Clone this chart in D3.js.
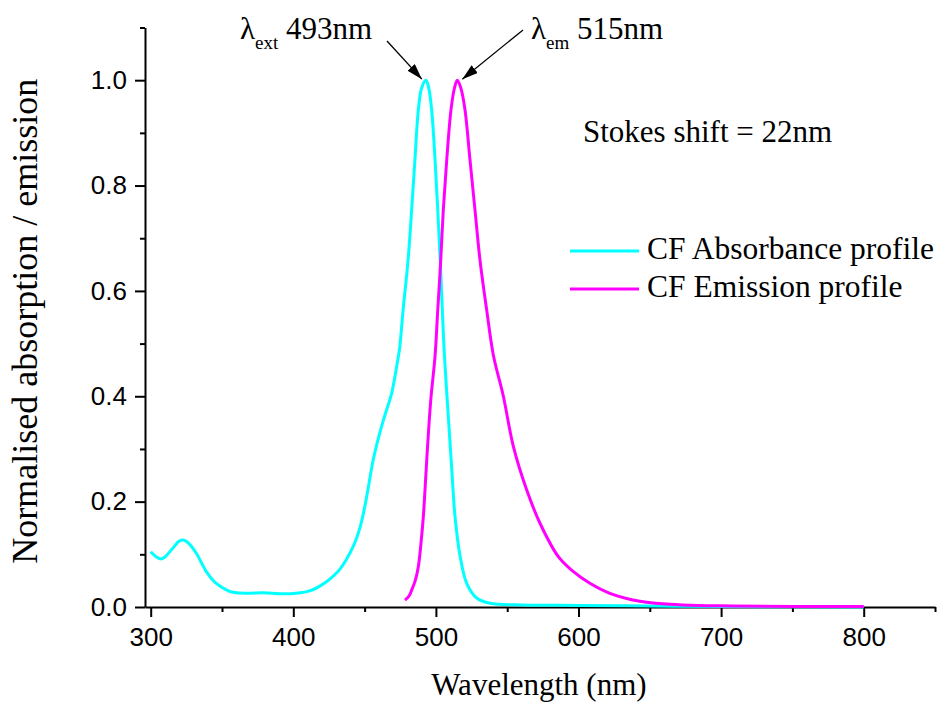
<!DOCTYPE html>
<html>
<head>
<meta charset="utf-8">
<script src="https://cdn.jsdelivr.net/npm/d3@7"></script>
<style>
  html, body { margin: 0; padding: 0; background: #fff; }
  svg { display: block; }
</style>
</head>
<body>
<svg id="chart" width="937" height="702"></svg>
<script>
// ---- Data ----
const absWavelength = [300, 304, 307, 310, 315, 320, 323, 327, 332, 339, 345, 349, 356, 367, 379, 391, 402, 412, 420, 426, 433, 442, 447, 451.5, 456, 460, 464, 469, 472.5, 474.5, 477, 480.5, 483, 485.3, 487.7, 490, 493, 495, 497, 499.4, 501.3, 503, 504.5, 506, 508.7, 511, 513.4, 517, 521.6, 528.6, 538, 561, 600, 650, 700, 800];
const absValues     = [0.105, 0.095, 0.091, 0.095, 0.110, 0.125, 0.127, 0.120, 0.102, 0.067, 0.047, 0.039, 0.029, 0.026, 0.027, 0.025, 0.026, 0.031, 0.042, 0.054, 0.073, 0.115, 0.153, 0.210, 0.279, 0.324, 0.362, 0.406, 0.457, 0.490, 0.564, 0.659, 0.754, 0.849, 0.944, 0.985, 1.000, 0.985, 0.944, 0.849, 0.754, 0.659, 0.564, 0.476, 0.362, 0.267, 0.172, 0.096, 0.045, 0.017, 0.007, 0.004, 0.003, 0.002, 0.001, 0.000];

const emWavelength = [478.3, 481, 483, 485.5, 487.7, 489.5, 491.2, 494, 496.4, 499.4, 501.3, 503.4, 505.2, 507.6, 510.6, 513, 515, 517.5, 520.4, 523.9, 527.4, 530.9, 535.6, 540.3, 547.3, 554.3, 563.7, 573, 586, 596, 608, 622, 643, 673, 708, 750, 800];
const emValues     = [0.013, 0.020, 0.032, 0.050, 0.077, 0.120, 0.172, 0.298, 0.393, 0.476, 0.564, 0.659, 0.754, 0.849, 0.944, 0.985, 1.000, 0.985, 0.944, 0.849, 0.754, 0.659, 0.564, 0.478, 0.400, 0.305, 0.222, 0.159, 0.095, 0.068, 0.045, 0.026, 0.011, 0.004, 0.002, 0.001, 0.001];

const xMajorTicks = [300, 400, 500, 600, 700, 800];
const xMinorTicks = [350, 450, 550, 650, 750, 850];
const yMajorTicks = [0.0, 0.2, 0.4, 0.6, 0.8, 1.0];
const yMinorTicks = [0.1, 0.3, 0.5, 0.7, 0.9, 1.1];

const seriesNames  = ["CF Absorbance profile", "CF Emission profile"];
const seriesColors = ["#00FFFF", "#FF00FF"];
const xTitle = "Wavelength (nm)";
const yTitle = "Normalised absorption / emission";
const stokesText = "Stokes shift = 22nm";
const peakAbs = 493, peakEm = 515;

// ---- Chart ----
const svg = d3.select("#chart");
const SERIF = '"Liberation Serif"';
const SANS = '"Liberation Sans"';

const x = d3.scaleLinear().domain([296, 850]).range([145, 935]);
const y = d3.scaleLinear().domain([0, 1.1]).range([607, 27.5]);

// axes
const gx = svg.append("g").attr("transform", `translate(0,${y(0)})`);
gx.call(d3.axisBottom(x).tickValues(xMajorTicks).tickSize(10).tickSizeOuter(0).tickPadding(11).tickFormat(d3.format("d")));
const gxm = svg.append("g").attr("transform", `translate(0,${y(0)})`);
gxm.call(d3.axisBottom(x).tickValues(xMinorTicks).tickSize(5).tickSizeOuter(0).tickFormat(""));
gxm.select(".domain").remove();

const gy = svg.append("g").attr("transform", `translate(${x.range()[0]},0)`);
gy.call(d3.axisLeft(y).tickValues(yMajorTicks).tickSize(10).tickSizeOuter(0).tickPadding(8).tickFormat(d3.format(".1f")));
const gym = svg.append("g").attr("transform", `translate(${x.range()[0]},0)`);
gym.call(d3.axisLeft(y).tickValues(yMinorTicks).tickSize(5).tickSizeOuter(0).tickFormat(""));
gym.select(".domain").remove();

svg.selectAll(".domain, .tick line").attr("stroke", "#000").attr("stroke-width", 2);
svg.selectAll(".tick text").style("font-family", SANS).attr("fill", "#000");
gx.selectAll(".tick text").style("font-size", "26px");
gy.selectAll(".tick text").style("font-size", "26px");

// lines
const line = d3.line().x(d => x(d[0])).y(d => y(d[1])).curve(d3.curveCatmullRom.alpha(0.5));
const series = [
  d3.zip(absWavelength, absValues),
  d3.zip(emWavelength, emValues)
];
series.forEach((s, i) => {
  svg.append("path").datum(s)
    .attr("d", line)
    .attr("fill", "none")
    .attr("stroke", seriesColors[i])
    .attr("stroke-width", 3)
    .attr("stroke-linejoin", "round");
});

// axis titles
svg.append("text")
  .attr("x", (x(296) + x(850)) / 2 - 1).attr("y", 695)
  .attr("text-anchor", "middle")
  .style("font-family", SERIF).style("font-size", "31px")
  .text(xTitle);

svg.append("text")
  .attr("transform", `translate(37,${(y(0) + y(1.1)) / 2 + 4}) rotate(-90)`)
  .attr("text-anchor", "middle")
  .style("font-family", SERIF).style("font-size", "36px")
  .text(yTitle);

// legend
const legend = svg.append("g");
seriesNames.forEach((name, i) => {
  const ly = 251 + i * 38;
  legend.append("line")
    .attr("x1", 570).attr("x2", 639).attr("y1", ly).attr("y2", ly)
    .attr("stroke", seriesColors[i]).attr("stroke-width", 3);
  legend.append("text")
    .attr("x", 647).attr("y", ly + 7.5)
    .style("font-family", SERIF).style("font-size", "31.5px")
    .text(name);
});

// Stokes shift
svg.append("text")
  .attr("x", 583).attr("y", 142)
  .style("font-family", SERIF).style("font-size", "31px")
  .text(stokesText);

// peak annotations
const defs = svg.append("defs");
defs.append("marker")
  .attr("id", "arrow").attr("viewBox", "0 0 16 10")
  .attr("refX", 16).attr("refY", 5)
  .attr("markerWidth", 16).attr("markerHeight", 10)
  .attr("markerUnits", "userSpaceOnUse")
  .attr("orient", "auto")
  .append("path").attr("d", "M0,0 L16,5 L0,10 Z").attr("fill", "#000");

function annotate(tx, sub, val) {
  const t = svg.append("text")
    .attr("x", tx).attr("y", 39)
    .style("font-family", SERIF).style("font-size", "31px");
  t.append("tspan").text("λ");
  t.append("tspan").style("font-size", "19px").attr("dy", 10).text(sub);
  t.append("tspan").attr("dy", -10).text(" " + val + "nm");
}
annotate(240, "ext", peakAbs);
annotate(531, "em", peakEm);

svg.append("line")
  .attr("x1", 387).attr("y1", 41)
  .attr("x2", x(peakAbs) - 4).attr("y2", y(1.0) - 1)
  .attr("stroke", "#000").attr("stroke-width", 1.3)
  .attr("marker-end", "url(#arrow)");
svg.append("line")
  .attr("x1", 523).attr("y1", 30)
  .attr("x2", x(peakEm) + 5).attr("y2", y(1.0) - 1)
  .attr("stroke", "#000").attr("stroke-width", 1.3)
  .attr("marker-end", "url(#arrow)");
</script>
</body>
</html>
